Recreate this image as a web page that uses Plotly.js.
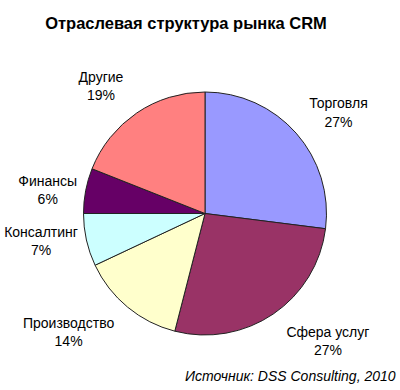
<!DOCTYPE html>
<html>
<head>
<meta charset="utf-8">
<script src="https://cdn.plot.ly/plotly-3.0.1.min.js"></script>
<style>html,body{margin:0;padding:0;background:#fff;}#chart{width:400px;height:390px;}</style>
</head>
<body>
<div id="chart"></div>
<script>
const categories = ["Торговля", "Сфера услуг", "Производство", "Консалтинг", "Финансы", "Другие"];
const shares = [27, 27, 14, 7, 6, 19];
const colors = ["#9999FF", "#993366", "#FFFFCC", "#CCFFFF", "#660066", "#FF8080"];
const titleText = "Отраслевая структура рынка CRM";
const sourceText = "Источник: DSS Consulting, 2010";

const up = "%{label}<br>%{percent:.0%}<br>&nbsp;";
const down = "&nbsp;<br>%{label}<br>%{percent:.0%}";
const plain = "%{label}<br>%{percent:.0%}";

const trace = {
  type: "pie",
  labels: categories,
  values: shares,
  sort: false,
  direction: "clockwise",
  rotation: 0,
  marker: {colors: colors, line: {color: "#222", width: 1}},
  textposition: "outside",
  texttemplate: [up, down, down, plain, plain, up],
  textfont: {family: "Liberation Sans, Arial, sans-serif", size: 14, color: "#000"},
  hoverinfo: "none",
  showlegend: false
};

const layout = {
  width: 400, height: 390,
  margin: {l: 83, r: 73, t: 92, b: 55},
  paper_bgcolor: "#fff",
  title: {text: "<b>" + titleText + "</b>", x: 0.465, xanchor: "center", y: 0.94, yanchor: "middle",
    font: {family: "Liberation Sans, Arial, sans-serif", size: 16.5, color: "#000"}},
  annotations: [{
    text: "<i>" + sourceText + "</i>", xref: "paper", yref: "paper", x: 1.29, y: -0.17,
    xanchor: "right", yanchor: "middle", showarrow: false,
    font: {family: "Liberation Sans, Arial, sans-serif", size: 14, color: "#000"}
  }]
};

Plotly.newPlot("chart", [trace], layout, {displayModeBar: false, staticPlot: true});
</script>
</body>
</html>
